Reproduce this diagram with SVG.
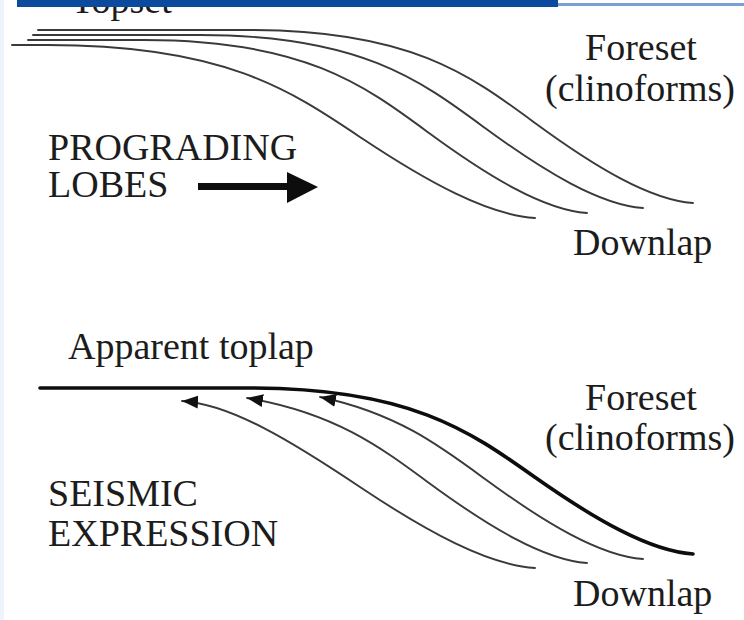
<svg xmlns="http://www.w3.org/2000/svg" width="744" height="620" viewBox="0 0 744 620">
  <style>
    .lbl { font-family: "Liberation Serif", "Times New Roman", serif; font-size: 38px; fill: #1c1c1c; }
    .thin { fill: none; stroke: #3a3a3a; stroke-width: 1.9; stroke-linecap: round; }
    .thick { fill: none; stroke: #0d0d0d; stroke-width: 3.6; stroke-linecap: round; }
  </style>
  <defs>
    <marker id="head" markerUnits="userSpaceOnUse" markerWidth="18" markerHeight="16" viewBox="0 -8 18 16" refX="16" refY="0" orient="auto-start-reverse">
      <path d="M0,-6.5 L16,0 L0,6.5 z" fill="#111"/>
    </marker>
  </defs>

  <rect width="744" height="620" fill="#ffffff"/>
  <rect x="0" y="0" width="4" height="620" fill="#eef4fb"/>

  <!-- heading, partly hidden under the title bar -->
  <text class="lbl" x="71" y="13" font-size="36">Topset</text>
  <g id="title-bar">
    <rect x="17" y="0" width="541" height="7" fill="#0b4a9c"/>
    <rect x="558" y="3" width="186" height="3" fill="#7b9fd4"/>
  </g>

  <!-- upper panel: prograding lobes (one sigmoid clinoform shape, stepped basinward) -->
  <g id="prograding-lobes">
    <path class="thin" d="M38,30 L250,30 C410,30 470,75 535,123 C595,167 650,200 693,203"/>
    <path class="thin" d="M33,35 L200,35 C360,35 420,80 485,128 C545,172 600,205 643,208"/>
    <path class="thin" d="M28,40 L144,40 C304,40 364,85 429,133 C489,177 544,210 587,213"/>
    <path class="thin" d="M12,45 L48,45 C224,45 290,90 361.5,138 C427.5,182 488,215 535,218"/>
  </g>

  <g id="progradation-arrow">
    <rect x="198" y="183" width="92" height="7" fill="#0d0d0d"/>
    <path d="M287,172 L318,187 L287,203 z" fill="#0d0d0d"/>
  </g>

  <g id="upper-labels">
    <text class="lbl" x="585" y="60">Foreset</text>
    <text class="lbl" x="545" y="101">(clinoforms)</text>
    <text class="lbl" x="48" y="160">PROGRADING</text>
    <text class="lbl" x="48" y="197">LOBES</text>
    <text class="lbl" x="573" y="255">Downlap</text>
  </g>

  <!-- lower panel: seismic expression -->
  <g id="seismic-expression">
    <path class="thick" d="M40,388 L250,388 C410,388 470,431.2 535,477.3 C595,519.5 650,551.2 693,554"/>
    <g id="connectors">
      <path class="thin" marker-start="url(#head)" d="M182,401 C230,404 290,440 361.5,488 C427.5,532 488,565 535,568"/>
      <path class="thin" marker-start="url(#head)" d="M247,398 C334.3,412.7 380.25,447 429,483 C489,527 544,560 587,563"/>
      <path class="thin" marker-start="url(#head)" d="M320,397 C396.5,413.3 439.5,445.4 485,479 C545,523 600,556 643,559"/>
    </g>
  </g>

  <g id="lower-labels">
    <text class="lbl" x="68" y="359">Apparent toplap</text>
    <text class="lbl" x="585" y="410">Foreset</text>
    <text class="lbl" x="545" y="450">(clinoforms)</text>
    <text class="lbl" x="48" y="506">SEISMIC</text>
    <text class="lbl" x="48" y="546">EXPRESSION</text>
    <text class="lbl" x="573" y="606">Downlap</text>
  </g>
</svg>
